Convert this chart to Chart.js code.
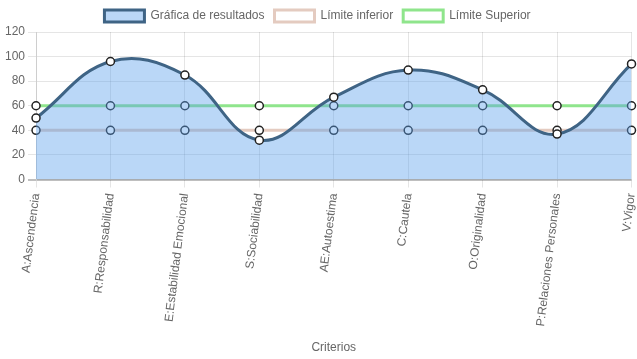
<!DOCTYPE html>
<html>
<head>
<meta charset="utf-8">
<script src="https://cdn.jsdelivr.net/npm/chart.js@4/dist/chart.umd.min.js"></script>
<style>
  html, body { margin: 0; padding: 0; background: #fff; }
  #wrap { width: 637px; height: 359px; }
</style>
</head>
<body>
<div id="wrap"><canvas id="grafica"></canvas></div>
<script>
// criterios y puntajes
const criterios = ['A:Ascendencia', 'R:Responsabilidad', 'E:Estabilidad Emocional', 'S:Sociabilidad',
  'AE:Autoestima', 'C:Cautela', 'O:Originalidad', 'P:Relaciones Personales', 'V:Vigor'];
const resultados = [50, 96, 85, 32, 67, 89, 73, 37, 94];
const limiteInferior = [40, 40, 40, 40, 40, 40, 40, 40, 40];
const limiteSuperior = [60, 60, 60, 60, 60, 60, 60, 60, 60];

Chart.defaults.font.family = '"Liberation Sans", Arial, sans-serif';
Chart.defaults.font.size = 12;
Chart.defaults.color = '#666';

const ctx = document.getElementById('grafica').getContext('2d');
new Chart(ctx, {
  type: 'line',
  data: {
    labels: criterios,
    datasets: [{
      label: 'Gráfica de resultados',
      data: resultados,
      borderColor: '#3f6485',
      backgroundColor: 'rgba(90,160,235,0.42)',
      borderWidth: 3,
      fill: 'origin',
      tension: 0.4,
      pointRadius: 4,
      pointBackgroundColor: '#fff',
      pointBorderColor: '#222',
      pointBorderWidth: 1.5
    }, {
      label: 'Límite inferior',
      data: limiteInferior,
      borderColor: '#e4cbc0',
      backgroundColor: 'rgba(255,255,255,0)',
      borderWidth: 3,
      fill: false,
      pointRadius: 4,
      pointBackgroundColor: '#fff',
      pointBorderColor: '#222',
      pointBorderWidth: 1.5
    }, {
      label: 'Límite Superior',
      data: limiteSuperior,
      borderColor: '#8fe58c',
      backgroundColor: 'rgba(255,255,255,0)',
      borderWidth: 3,
      fill: false,
      pointRadius: 4,
      pointBackgroundColor: '#fff',
      pointBorderColor: '#222',
      pointBorderWidth: 1.5
    }]
  },
  options: {
    responsive: true,
    maintainAspectRatio: false,
    animation: false,
    layout: { padding: { left: 2, right: 4 } },
    plugins: {
      legend: {
        position: 'top',
        labels: { boxWidth: 40, boxHeight: 12, padding: 10 }
      },
      tooltip: { enabled: false }
    },
    scales: {
      x: {
        grid: { color: 'rgba(0,0,0,0.1)' },
        ticks: { minRotation: 83, maxRotation: 83, padding: 5 },
        title: { display: true, text: 'Criterios', padding: { top: 12 } },
        // no reservar espacio extra a la derecha por la última etiqueta
        afterFit: (scale) => { scale.paddingRight = 0; }
      },
      y: {
        min: 0,
        max: 120,
        ticks: { stepSize: 20 },
        grid: {
          color: (c) => c.tick && c.tick.value === 0 ? 'rgba(0,0,0,0.25)' : 'rgba(0,0,0,0.1)',
          lineWidth: (c) => c.tick && c.tick.value === 0 ? 2 : 1
        }
      }
    }
  }
});
</script>
</body>
</html>
